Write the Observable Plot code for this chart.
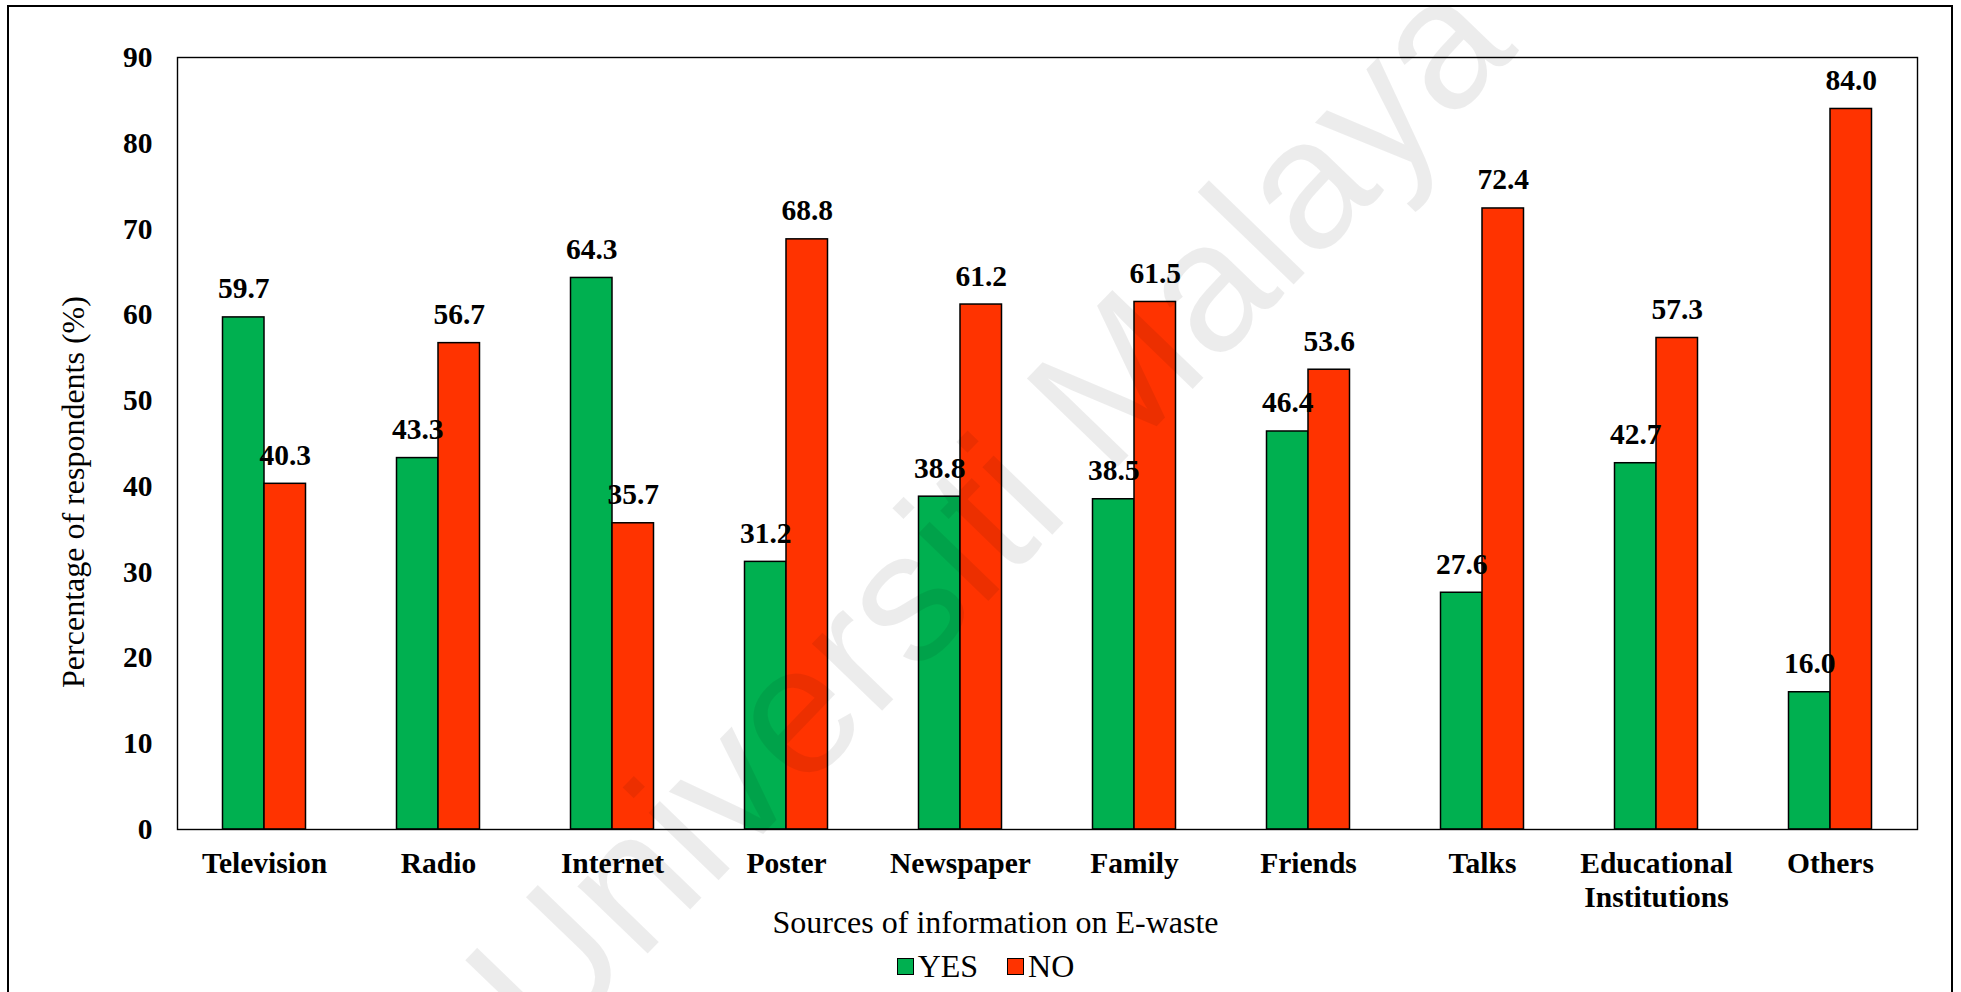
<!DOCTYPE html>
<html>
<head>
<meta charset="utf-8">
<script src="https://cdn.jsdelivr.net/npm/d3@7"></script>
<script src="https://cdn.jsdelivr.net/npm/@observablehq/plot@0.6"></script>
<style>
  html, body { margin: 0; padding: 0; background: #fff; overflow: hidden; }
  body { width: 1961px; height: 992px; position: relative; font-family: "Liberation Serif", "Times New Roman", serif; }
  #chart svg { display: block; overflow: visible; }
  #legend { width: 1961px; display: flex; justify-content: center; align-items: center; height: 32px; line-height: 32px; font-size: 32px; padding-left: 10px; box-sizing: border-box; color: #000; }
  .item { display: flex; align-items: center; }
  .sw { width: 17px; height: 17px; box-sizing: border-box; border: 1.5px solid #000; margin-right: 4px; }
  #border { position: absolute; left: 7px; top: 5px; width: 1946px; height: 1100px; box-sizing: border-box; border: 2px solid #000; pointer-events: none; }
  #wm { position: absolute; left: 987px; top: 510px; transform: translate(-50%, -50%) rotate(-46deg); font-family: "Liberation Sans", Arial, sans-serif; font-size: 184px; color: rgba(0,0,0,0.075); white-space: nowrap; pointer-events: none; }
</style>
</head>
<body>
<div id="chart"></div>
<div id="legend"></div>
<div id="border"></div>
<div id="wm">Universiti Malaya</div>
<script>
const categories = ["Television", "Radio", "Internet", "Poster", "Newspaper", "Family", "Friends", "Talks", "Educational Institutions", "Others"];
const tickLabels = ["Television", "Radio", "Internet", "Poster", "Newspaper", "Family", "Friends", "Talks", "Educational\nInstitutions", "Others"];
const yesValues = [59.7, 43.3, 64.3, 31.2, 38.8, 38.5, 46.4, 27.6, 42.7, 16.0];
const noValues = [40.3, 56.7, 35.7, 68.8, 61.2, 61.5, 53.6, 72.4, 57.3, 84.0];
const series = ["YES", "NO"];
const seriesColors = ["#00B050", "#FF3300"];
const yTicks = [0, 10, 20, 30, 40, 50, 60, 70, 80, 90];
const xTitle = "Sources of information on E-waste";
const yTitle = "Percentage of respondents (%)";

const yesRows = categories.map((c, i) => ({category: c, series: "YES", value: yesValues[i]}));
const noRows = categories.map((c, i) => ({category: c, series: "NO", value: noValues[i]}));

const labelFont = 29.5;

const chart = Plot.plot({
  width: 1961,
  height: 950,
  marginLeft: 177,
  marginRight: 44,
  marginTop: 57,
  marginBottom: 121,
  style: {fontFamily: '"Liberation Serif", "Times New Roman", serif', fontSize: "29.5px", color: "#000", background: "transparent", overflow: "visible"},
  x: {domain: categories, padding: 0, label: null},
  y: {domain: [0, 90], label: null},
  color: {domain: series, range: seriesColors},
  marks: [
    Plot.barY(yesRows, {x: "category", y: "value", fill: "series", stroke: "#000", strokeWidth: 1.5, insetLeft: 45.5, insetRight: 87}),
    Plot.barY(noRows, {x: "category", y: "value", fill: "series", stroke: "#000", strokeWidth: 1.5, insetLeft: 87, insetRight: 45.5}),
    Plot.frame({stroke: "#000", strokeWidth: 1.4}),
    Plot.text(yesRows, {x: "category", y: "value", text: d => d.value.toFixed(1), dx: -20.75, dy: -19, lineAnchor: "bottom", fontWeight: "bold", fontSize: labelFont, fill: "#000"}),
    Plot.text(noRows, {x: "category", y: "value", text: d => d.value.toFixed(1), dx: 20.75, dy: -19, lineAnchor: "bottom", fontWeight: "bold", fontSize: labelFont, fill: "#000"}),
    Plot.axisX({tickSize: 0, tickPadding: 20, fontSize: labelFont, fontWeight: "bold", lineHeight: 1.14, tickFormat: d => tickLabels[categories.indexOf(d)], label: null}),
    Plot.axisY({ticks: yTicks, tickSize: 0, tickPadding: 25, fontSize: labelFont, fontWeight: "bold", label: null}),
    Plot.text([xTitle], {text: d => d, frameAnchor: "bottom", textAnchor: "middle", dx: -52, dy: 103, lineAnchor: "bottom", fontSize: 32, fill: "#000"}),
    Plot.text([yTitle], {text: d => d, frameAnchor: "left", textAnchor: "middle", rotate: -90, dx: -94, dy: 48.5, lineAnchor: "bottom", fontSize: 32, fill: "#000"})
  ]
});
document.getElementById("chart").appendChild(chart);

const legend = document.getElementById("legend");
series.forEach((s, i) => {
  const item = document.createElement("div");
  item.className = "item";
  if (i > 0) item.style.marginLeft = "29px";
  const sw = document.createElement("div");
  sw.className = "sw";
  sw.style.background = seriesColors[i];
  const label = document.createElement("span");
  label.textContent = s;
  item.appendChild(sw);
  item.appendChild(label);
  legend.appendChild(item);
});
</script>
</body>
</html>
